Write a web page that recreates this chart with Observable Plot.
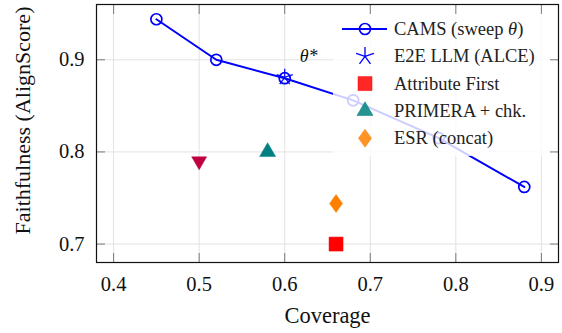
<!DOCTYPE html>
<html><head><meta charset="utf-8">
<script src="https://cdn.jsdelivr.net/npm/d3@7"></script>
<script src="https://cdn.jsdelivr.net/npm/@observablehq/plot@0.6"></script>
<style>
body{margin:0;background:#fff}
svg, svg text, svg tspan, svg g{font-family:"Liberation Serif","Times New Roman",serif !important}
</style>
</head><body><div id="chart"></div>
<script>
// ---- data ----
const camsCoverage = [0.45, 0.52, 0.60, 0.68, 0.78, 0.88];
const camsFaith    = [0.944, 0.900, 0.880, 0.856, 0.815, 0.762];
const thetaStarIndex = 2;

const baselineNames    = ["E2E LLM (ALCE)", "Attribute First", "PRIMERA + chk.", "ESR (concat)", "Other baseline"];
const baselineCoverage = [0.60, 0.66, 0.58, 0.66, 0.50];
const baselineFaith    = [0.881, 0.70, 0.80, 0.744, 0.79];
const baselineColors   = ["#0000ff", "#ff0000", "#008080", "#ff8000", "#bf0040"];
const baselineShapes   = ["star", "square", "triangle", "diamond", "triangleDown"];
const baselineInLegend = [true, true, true, true, false];

const camsLabel = "CAMS (sweep ";
const xTicks = [0.4, 0.5, 0.6, 0.7, 0.8, 0.9];
const yTicks = [0.7, 0.8, 0.9];
const xLabel = "Coverage";
const yLabel = "Faithfulness (AlignScore)";

const FONT = "Liberation Serif, Times New Roman, serif";

// ---- symbols ----
const symbols = {
  circle: {draw(c){ const r = 5.5; c.moveTo(r,0); c.arc(0,0,r,0,2*Math.PI); c.closePath(); }},
  star: {draw(c){ const R = 8.5; for (let k=0;k<5;k++){ const a = (-90+72*k)*Math.PI/180; c.moveTo(0,0); c.lineTo(R*Math.cos(a), R*Math.sin(a)); } }},
  square: {draw(c){ const h = 7; c.moveTo(-h,-h); c.lineTo(h,-h); c.lineTo(h,h); c.lineTo(-h,h); c.closePath(); }},
  triangle: {draw(c){ const s = 8, h = s*Math.sqrt(3); c.moveTo(0,-2*h/3); c.lineTo(s,h/3); c.lineTo(-s,h/3); c.closePath(); }},
  triangleDown: {draw(c){ const s = 7.5, h = s*Math.sqrt(3); c.moveTo(0,2*h/3); c.lineTo(s,-h/3); c.lineTo(-s,-h/3); c.closePath(); }},
  diamond: {draw(c){ const w = 6.5, h = 9; c.moveTo(0,-h); c.lineTo(w,0); c.lineTo(0,h); c.lineTo(-w,0); c.closePath(); }}
};
const isLineSymbol = s => s === "star";

const cams = camsCoverage.map((x, i) => ({x, y: camsFaith[i]}));
const baselines = baselineNames.map((name, i) => ({
  name, x: baselineCoverage[i], y: baselineFaith[i], color: baselineColors[i], shape: baselineShapes[i], legend: baselineInLegend[i]
}));

const blue = "#0000ff";

// ---- legend (drawn inside svg) ----
function legend(index, scales, values, dims) {
  const g = d3.create("svg:g").attr("text-anchor", "start");
  const right = dims.width - dims.marginRight;
  const boxLeft = right - 225, boxTop = dims.marginTop + 3;
  const symX = boxLeft + 32, textX = boxLeft + 61, row0 = dims.marginTop + 25, step = 27.3;
  g.append("rect").attr("x", boxLeft).attr("y", boxTop).attr("width", right - 3 - boxLeft).attr("height", 149)
    .style("fill", "#ffffff").style("fill-opacity", 0.8).style("stroke", "none");
  const path = (shape) => { const p = d3.path(); symbols[shape].draw(p); return p.toString(); };
  const fs = 18.5;
  let y = row0;
  g.append("line").attr("x1", symX - 23).attr("x2", symX + 22).attr("y1", y).attr("y2", y)
    .attr("stroke", blue).attr("stroke-width", 2);
  g.append("path").attr("d", path("circle")).attr("transform", `translate(${symX},${y})`)
    .attr("fill", "none").attr("stroke", blue).attr("stroke-width", 1.7);
  const t0 = g.append("text").attr("x", textX).attr("y", y).attr("dy", "0.33em").attr("font-size", fs).attr("fill", "#222");
  t0.append("tspan").text(camsLabel);
  t0.append("tspan").attr("font-style", "italic").text("θ");
  t0.append("tspan").text(")");
  baselines.filter(b => b.legend).forEach((b, i) => {
    const yy = row0 + step * (i + 1);
    const p = g.append("path").attr("d", path(b.shape)).attr("transform", `translate(${symX},${yy})${b.shape==="star" ? " scale(1.1)" : ""}`);
    if (isLineSymbol(b.shape)) p.attr("fill", "none").attr("stroke", b.color).attr("stroke-width", 1.2);
    else p.attr("fill", b.color).attr("fill-opacity", 0.85).attr("stroke", b.color).attr("stroke-width", 0.5);
    g.append("text").attr("x", textX).attr("y", yy).attr("dy", "0.33em").attr("font-size", fs).attr("fill", "#222").text(b.name);
  });
  return g.node();
}

const baselineMarks = baselines.map(b => Plot.dot([b], {
  x: "x", y: "y", symbol: symbols[b.shape], r: 6,
  fill: isLineSymbol(b.shape) ? "none" : b.color,
  stroke: b.color,
  strokeWidth: isLineSymbol(b.shape) ? 1.2 : 0.5
}));

const fmt = d3.format(".1f");

const chart = Plot.plot({
  width: 562, height: 333,
  marginLeft: 96, marginRight: 4, marginTop: 4, marginBottom: 71,
  x: {domain: [0.38, 0.92]},
  y: {domain: [0.68, 0.96]},
  style: {fontFamily: FONT, background: "white", color: "#111"},
  marks: [
    Plot.gridX(xTicks, {stroke: "#e2e2e2", strokeOpacity: 1}),
    Plot.gridY(yTicks, {stroke: "#e2e2e2", strokeOpacity: 1}),
    Plot.line(cams, {x: "x", y: "y", stroke: blue, strokeWidth: 2}),
    Plot.dot(cams, {x: "x", y: "y", symbol: symbols.circle, r: 5.5, fill: "none", stroke: blue, strokeWidth: 1.7}),
    ...baselineMarks,
    Plot.text([thetaStarIndex], {x: i => camsCoverage[i], y: i => camsFaith[i], text: () => "θ*",
      dx: 15, dy: -22, textAnchor: "start", fontStyle: "italic", fontSize: 18, fill: "#111"}),
    legend,
    Plot.axisX(xTicks, {anchor: "bottom", tickSize: 0, tickPadding: 14, fontSize: 20.5, label: null, stroke: "none", fill: "#111", tickFormat: fmt}),
    Plot.axisY(yTicks, {anchor: "left", tickSize: 0, tickPadding: 12, fontSize: 20.5, label: null, stroke: "none", fill: "#111", tickFormat: fmt}),
    Plot.axisX(xTicks, {anchor: "bottom", tickSize: 9, insetBottom: 9, fill: "none", label: null, stroke: "#7a7a7a"}),
    Plot.axisX(xTicks, {anchor: "top", tickSize: 9, insetTop: 9, fill: "none", label: null, stroke: "#7a7a7a"}),
    Plot.axisY(yTicks, {anchor: "left", tickSize: 9, insetLeft: 9, fill: "none", label: null, stroke: "#7a7a7a"}),
    Plot.axisY(yTicks, {anchor: "right", tickSize: 9, insetRight: 9, fill: "none", label: null, stroke: "#7a7a7a"}),
    Plot.frame({stroke: "#111", strokeWidth: 1.2}),
    Plot.text([xLabel], {frameAnchor: "bottom", textAnchor: "middle", lineAnchor: "middle", dy: 53, fontSize: 22.5, fill: "#111"}),
    Plot.text([yLabel], {frameAnchor: "left", textAnchor: "middle", lineAnchor: "middle", rotate: -90, dx: -74, dy: -13, fontSize: 22, fill: "#111"})
  ]
});
document.getElementById("chart").appendChild(chart);
</script>
</body></html>
